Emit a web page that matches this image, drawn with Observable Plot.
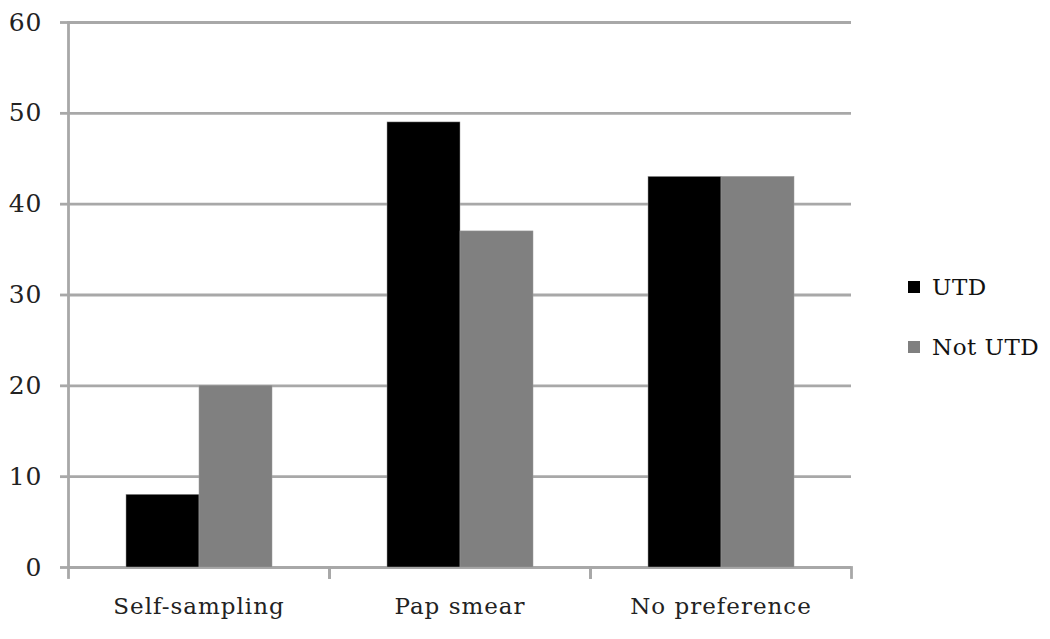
<!DOCTYPE html>
<html><head><meta charset="utf-8">
<script src="https://cdn.jsdelivr.net/npm/d3@7"></script>
<script src="https://cdn.jsdelivr.net/npm/@observablehq/plot@0.6"></script>
<style>
body{margin:0;background:#fff;}
#wrap{position:relative;width:1050px;height:639px;font-family:"DejaVu Serif",serif;}
#legend{position:absolute;left:908px;top:272px;font-size:23px;letter-spacing:0.5px;color:#111;}
.item{display:flex;align-items:center;height:30px;margin-bottom:30px;}
.sw{width:12px;height:12px;margin-right:12px;}
</style></head>
<body><div id="wrap"><div id="legend"></div></div>
<script>
const categories = ["Self-sampling", "Pap smear", "No preference"];
const series = ["UTD", "Not UTD"];
const utd = [8, 49, 43];
const notUtd = [20, 37, 43];
const colors = ["#000000", "#808080"];
const yTicks = [0, 10, 20, 30, 40, 50, 60];

const data = [];
categories.forEach((c, i) => {
  data.push({category: c, series: "UTD", value: utd[i]});
  data.push({category: c, series: "Not UTD", value: notUtd[i]});
});

const gray = "#a8a8a8";
const chart = Plot.plot({
  width: 1050, height: 639,
  marginLeft: 67, marginRight: 198, marginTop: 22, marginBottom: 72,
  style: {fontFamily: "DejaVu Serif, serif", fontSize: "23px", letterSpacing: "1px", color: "#222", background: "#fff"},
  fx: {domain: categories, padding: 0, label: null},
  x: {domain: series, paddingInner: 0, paddingOuter: 0.77, axis: null},
  y: {domain: [0, 60], ticks: yTicks, label: null},
  color: {domain: series, range: colors},
  marks: [
    Plot.gridY(yTicks, {stroke: gray, strokeWidth: 2.8, strokeOpacity: 1}),
    Plot.barY(data, {fx: "category", x: "series", y: "value", fill: "series", stroke: "#9a9a9a", strokeWidth: 0.5}),
    Plot.frame({anchor: "left", facetAnchor: "left", stroke: gray, strokeWidth: 2.8}),
    Plot.frame({anchor: "left", stroke: gray, strokeWidth: 2.8, insetTop: 545, insetBottom: -10}),
    Plot.frame({anchor: "right", stroke: gray, strokeWidth: 2.8, insetTop: 545, insetBottom: -10}),
    Plot.axisY({ticks: yTicks, tickSize: 8, tickPadding: 18, stroke: gray, strokeWidth: 2.8, label: null, fontSize: 25, letterSpacing: 0.5}),
    Plot.axisFx({anchor: "bottom", tickSize: 0, tickPadding: 30, label: null})
  ]
});
document.getElementById("wrap").prepend(chart);

const leg = document.getElementById("legend");
series.forEach((s, i) => {
  const it = document.createElement("div");
  it.className = "item";
  it.innerHTML = `<div class="sw" style="background:${colors[i]}"></div><span>${s}</span>`;
  leg.appendChild(it);
});
</script></body></html>
